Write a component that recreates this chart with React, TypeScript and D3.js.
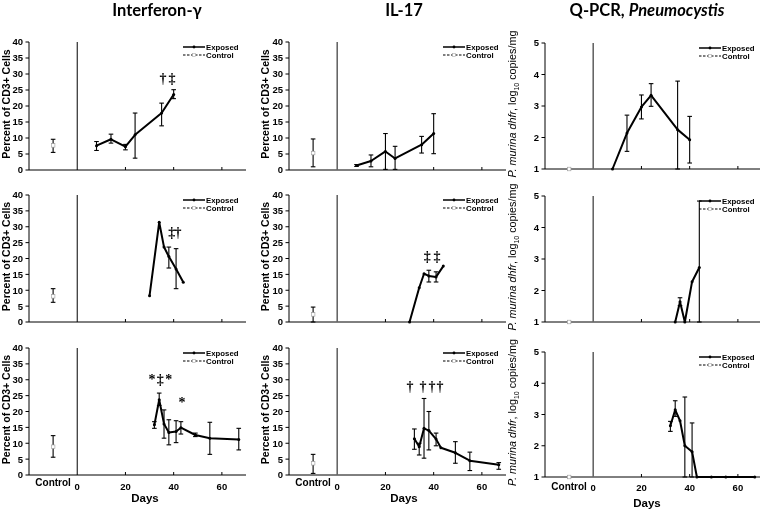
import React from 'react';
import * as d3 from 'd3';

// ---------- text ----------
const columnTitles = ['Interferon-γ', 'IL-17', 'Q-PCR, '];
const qpcrTitleItalic = 'Pneumocystis';
const pctAxisLabel = 'Percent of CD3+ Cells';
const legendLabels = ['Exposed', 'Control'];
const xAxisTitle = 'Days';
const controlLabel = 'Control';

// ---------- ticks ----------
const pctTicks = [0, 5, 10, 15, 20, 25, 30, 35, 40];
const logTicks = [1, 2, 3, 4, 5];
const dayTicks = [20, 40, 60];
const dayTickLabels = [0, 20, 40, 60];
const CONTROL_DAY = -10;

// ---------- data: Interferon-γ ----------
const ifnTopDays = [8, 14, 20, 24, 35, 40];
const ifnTopMean = [7.6, 9.6, 7.3, 11.0, 17.8, 23.6];
const ifnTopHi = [8.9, 11.2, 8.0, 17.8, 20.9, 25.1];
const ifnTopLo = [6.1, 8.4, 6.3, 3.7, 13.8, 22.3];
const ifnTopControl = [7.7, 5.5, 9.6];

const ifnMidDays = [30, 34, 36, 38, 41, 44];
const ifnMidMean = [8.3, 31.4, 23.6, 20.6, 16.7, 12.5];
const ifnMidHi = [null, null, null, 23.6, 23.1, null];
const ifnMidLo = [null, null, null, 17.0, 10.5, null];
const ifnMidControl = [8.1, 6.2, 10.5];

const ifnBotDays = [32, 34, 36, 38, 41, 43, 49, 55, 67];
const ifnBotMean = [15.8, 23.7, 16.1, 13.4, 13.7, 14.9, 12.6, 11.6, 11.2];
const ifnBotHi = [16.8, 25.8, 20.5, 17.4, 17.1, 16.8, 13.2, 16.6, 14.7];
const ifnBotLo = [14.7, 21.9, 11.6, 9.5, 10.2, 12.9, 12.1, 6.5, 7.9];
const ifnBotControl = [8.9, 5.6, 12.4];

// ---------- data: IL-17 ----------
const il17TopDays = [8, 14, 20, 24, 35, 40];
const il17TopMean = [1.4, 2.8, 5.8, 3.6, 7.9, 11.4];
const il17TopHi = [1.7, 4.7, 11.4, 7.4, 10.5, 17.6];
const il17TopLo = [1.1, 1.0, 0.2, 0.2, 5.3, 5.1];
const il17TopControl = [5.3, 1.0, 9.7];

const il17MidDays = [30, 34, 36, 38, 41, 44];
const il17MidMean = [0, 10.8, 15.2, 14.5, 14.2, 17.6];
const il17MidHi = [null, null, null, 16.3, 15.8, null];
const il17MidLo = [null, null, null, 12.6, 12.6, null];
const il17MidControl = [2.4, 0, 4.7];

const il17BotDays = [32, 34, 36, 38, 41, 43, 49, 55, 67];
const il17BotMean = [11.4, 8.9, 14.7, 14.0, 11.3, 8.6, 7.0, 4.5, 3.2];
const il17BotHi = [14.5, 10.0, 24.1, 20.0, 13.2, null, 10.5, 7.2, 3.9];
const il17BotLo = [8.1, 6.3, 5.3, 7.9, 9.2, null, 3.7, 1.4, 1.8];
const il17BotControl = [3.7, 0.5, 6.5];

// ---------- data: Q-PCR (log10 copies/mg) ----------
const qTopDays = [8, 14, 20, 24, 35, 40];
const qTopMean = [1.0, 2.14, 2.97, 3.34, 2.25, 1.93];
const qTopHi = [null, 2.71, 3.35, 3.71, 3.79, 2.67];
const qTopLo = [null, 1.56, 2.59, 2.99, 1.0, 1.19];
const qTopControl = [1.0, null, null];

const qMidDays = [34, 36, 38, 41, 44];
const qMidMean = [1.0, 1.64, 1.0, 2.28, 2.73];
const qMidHi = [null, 1.77, null, null, 4.84];
const qMidLo = [null, 1.52, null, null, 1.0];
const qMidControl = [1.0, null, null];

const qBotDays = [32, 34, 36, 38, 41, 43, 49, 55, 67];
const qBotMean = [2.64, 3.15, 2.8, 2.0, 1.81, 1.0, 1.0, 1.0, 1.0];
const qBotHi = [2.78, 3.44, null, 3.56, 2.73, null, null, null, null];
const qBotLo = [2.46, 2.94, null, 1.0, 1.0, null, null, null, null];
const qBotControl = [1.0, null, null];

// ---------- significance marks (day, value, glyph) ----------
const ifnTopMarks = [[35.6, 27.3, '†'], [39.3, 27.3, '‡']];
const ifnMidMarks = [[39.2, 26.8, '‡'], [41.8, 26.8, '†']];
const ifnBotMarks = [[31.0, 28.7, '*'], [34.4, 28.7, '‡'], [38.0, 28.7, '*'], [43.5, 21.4, '*']];
const il17MidMarks = [[37.3, 19.2, '‡'], [41.4, 19.2, '‡']];
const il17BotMarks = [[30.2, 26.5, '†'], [35.6, 26.5, '†'], [39.3, 26.5, '†'], [42.6, 26.5, '†']];

const panels = [
  { row: 0, col: 0, days: ifnTopDays, mean: ifnTopMean, hi: ifnTopHi, lo: ifnTopLo, ctrl: ifnTopControl, marks: ifnTopMarks },
  { row: 1, col: 0, days: ifnMidDays, mean: ifnMidMean, hi: ifnMidHi, lo: ifnMidLo, ctrl: ifnMidControl, marks: ifnMidMarks },
  { row: 2, col: 0, days: ifnBotDays, mean: ifnBotMean, hi: ifnBotHi, lo: ifnBotLo, ctrl: ifnBotControl, marks: ifnBotMarks },
  { row: 0, col: 1, days: il17TopDays, mean: il17TopMean, hi: il17TopHi, lo: il17TopLo, ctrl: il17TopControl, marks: [] },
  { row: 1, col: 1, days: il17MidDays, mean: il17MidMean, hi: il17MidHi, lo: il17MidLo, ctrl: il17MidControl, marks: il17MidMarks },
  { row: 2, col: 1, days: il17BotDays, mean: il17BotMean, hi: il17BotHi, lo: il17BotLo, ctrl: il17BotControl, marks: il17BotMarks },
  { row: 0, col: 2, days: qTopDays, mean: qTopMean, hi: qTopHi, lo: qTopLo, ctrl: qTopControl, marks: [] },
  { row: 1, col: 2, days: qMidDays, mean: qMidMean, hi: qMidHi, lo: qMidLo, ctrl: qMidControl, marks: [] },
  { row: 2, col: 2, days: qBotDays, mean: qBotMean, hi: qBotHi, lo: qBotLo, ctrl: qBotControl, marks: [] },
];

// ---------- layout ----------
const W = 760;
const H = 509;
const colLeft = [29, 289, 545];
const panelWidth = 217;
const rowsPct = [[42, 170], [195, 322], [348, 475]];
const rowsQ = [[43, 169], [196, 322], [352, 477]];
const titleX = [157, 404, 647];
const yLabelX = [6, 265, 512];
const daysTitleDx = [116, 115, 102];
const SANS = '"Liberation Sans", Arial, sans-serif';
const SERIF = '"Liberation Serif", "Times New Roman", serif';

function Panel({ p }: { p: any }) {
  const isQ = p.col === 2;
  const left = colLeft[p.col];
  const [top, bottom] = isQ ? rowsQ[p.row] : rowsPct[p.row];
  const x = d3.scaleLinear().domain([-20, 70]).range([left, left + panelWidth]);
  const y = d3.scaleLinear().domain(isQ ? [1, 5] : [0, 40]).range([bottom, top]);
  const yTicks = isQ ? logTicks : pctTicks;
  const pts = p.days.map((d: number, i: number) => ({ d, v: p.mean[i], hi: p.hi[i], lo: p.lo[i] }));
  const line = d3.line<any>().x((q) => x(q.d)).y((q) => y(q.v));
  const right = x(70);
  const zeroColor = p.col === 0 ? '#000' : '#666';
  const zeroWidth = p.col === 0 ? 1 : 1.6;
  const mid = (top + bottom) / 2;
  const legX = left + 154;
  const legY1 = top + 5;
  const legY2 = top + 13;
  const cap = 2.3;
  const [cMean, cLo, cHi] = p.ctrl;
  const isBottom = p.row === 2;

  return (
    <g>
      {/* y axis */}
      <line x1={left} x2={left} y1={top} y2={bottom} stroke="#000" strokeWidth={1} />
      {yTicks.map((t: number) => (
        <g key={t}>
          <line x1={left - 3.5} x2={left} y1={y(t)} y2={y(t)} stroke="#000" strokeWidth={1} />
          <text x={left - 6} y={y(t)} dy="0.36em" textAnchor="end" fontFamily={SANS} fontWeight="bold" fontSize={9.5} fill="#000">
            {t}
          </text>
        </g>
      ))}
      {/* x axis */}
      <line x1={left} x2={right} y1={bottom} y2={bottom} stroke="#000" strokeWidth={1} />
      {dayTicks.map((t) => (
        <line key={t} x1={x(t)} x2={x(t)} y1={bottom} y2={bottom - 3} stroke="#000" strokeWidth={1} />
      ))}
      {/* day 0 divider */}
      <line x1={x(0)} x2={x(0)} y1={top} y2={bottom} stroke={zeroColor} strokeWidth={zeroWidth} />

      {/* y axis label */}
      {isQ ? (
        <text transform={`translate(${yLabelX[p.col]},${mid - 2}) rotate(-90)`} textAnchor="middle" dy="0.35em" fontFamily={SANS} fontSize={10.8} fill="#000">
          <tspan fontStyle="italic">P. murina dhfr</tspan>
          <tspan>, log</tspan>
          <tspan fontSize={7} dy="3">10</tspan>
          <tspan dy="-3"> copies/mg</tspan>
        </text>
      ) : (
        <text transform={`translate(${yLabelX[p.col]},${mid - 2}) rotate(-90)`} textAnchor="middle" dy="0.35em" fontFamily={SANS} fontWeight="bold" fontSize={10.5} fill="#000">
          {pctAxisLabel}
        </text>
      )}

      {/* control */}
      {cHi != null && (
        <g stroke="#000" strokeWidth={1.1}>
          <line x1={x(CONTROL_DAY)} x2={x(CONTROL_DAY)} y1={y(cHi)} y2={y(cLo)} />
          <line x1={x(CONTROL_DAY) - cap} x2={x(CONTROL_DAY) + cap} y1={y(cHi)} y2={y(cHi)} />
          <line x1={x(CONTROL_DAY) - cap} x2={x(CONTROL_DAY) + cap} y1={y(cLo)} y2={y(cLo)} />
        </g>
      )}
      <rect x={x(CONTROL_DAY) - 1.8} y={y(cMean) - 1.8} width={3.6} height={3.6} fill="#fff" stroke="#999" strokeWidth={0.6} />

      {/* exposed error bars */}
      {pts.filter((q: any) => q.hi != null).map((q: any, i: number) => (
        <g key={i} stroke="#000" strokeWidth={1.1}>
          <line x1={x(q.d)} x2={x(q.d)} y1={y(q.hi)} y2={y(q.lo)} />
          <line x1={x(q.d) - cap} x2={x(q.d) + cap} y1={y(q.hi)} y2={y(q.hi)} />
          <line x1={x(q.d) - cap} x2={x(q.d) + cap} y1={y(q.lo)} y2={y(q.lo)} />
        </g>
      ))}
      {/* exposed line */}
      <path d={line(pts) || ''} fill="none" stroke="#000" strokeWidth={2} strokeLinejoin="round" />
      {pts.map((q: any, i: number) => (
        <circle key={i} cx={x(q.d)} cy={y(q.v)} r={1.5} fill="#000" />
      ))}

      {/* significance marks */}
      {p.marks.map((m: any, i: number) => (
        <text key={i} x={x(m[0])} y={y(m[1])} textAnchor="middle" fontFamily={SERIF} fontWeight="bold" fontSize={14} fill="#000">
          {m[2]}
        </text>
      ))}

      {/* legend */}
      <line x1={legX} x2={legX + 22} y1={legY1} y2={legY1} stroke="#000" strokeWidth={1.5} />
      <circle cx={legX + 11} cy={legY1} r={1.4} fill="#000" />
      <text x={legX + 23} y={legY1} dy="0.35em" fontFamily={SANS} fontWeight="bold" fontSize={7.8} fill="#000">{legendLabels[0]}</text>
      <line x1={legX} x2={legX + 22} y1={legY2} y2={legY2} stroke="#000" strokeWidth={1.2} strokeDasharray="2.5,1.5" />
      <rect x={legX + 9.5} y={legY2 - 1.5} width={3} height={3} fill="#fff" stroke="#aaa" strokeWidth={0.6} />
      <text x={legX + 23} y={legY2} dy="0.35em" fontFamily={SANS} fontWeight="bold" fontSize={7.8} fill="#000">{legendLabels[1]}</text>

      {/* bottom row x labels */}
      {isBottom && (
        <g fontFamily={SANS} fontWeight="bold" fill="#000">
          <text x={x(CONTROL_DAY)} y={bottom + (isQ ? 13 : 10.5)} textAnchor="middle" fontSize={10}>{controlLabel}</text>
          {dayTickLabels.map((t) => (
            <text key={t} x={x(t)} y={bottom + (isQ ? 13.5 : 15)} textAnchor="middle" fontSize={9.5}>{t}</text>
          ))}
          <text x={left + daysTitleDx[p.col]} y={bottom + (isQ ? 30 : 27)} textAnchor="middle" fontSize={11.5}>{xAxisTitle}</text>
        </g>
      )}
    </g>
  );
}

export default function App() {
  return (
    <svg width={W} height={H} style={{ position: 'absolute', left: 0, top: 0, background: '#fff', willChange: 'transform' }}>
      <rect width={W} height={H} fill="#fff" />
      {columnTitles.map((t, i) => (
        <text key={i} x={titleX[i]} y={16} textAnchor="middle" fontFamily="Lato, sans-serif" fontWeight="bold" fontSize={16.5} fill="#000">
          {t}
          {i === 2 && <tspan fontStyle="italic">{qpcrTitleItalic}</tspan>}
        </text>
      ))}
      {panels.map((p, i) => (
        <Panel key={i} p={p} />
      ))}
    </svg>
  );
}
